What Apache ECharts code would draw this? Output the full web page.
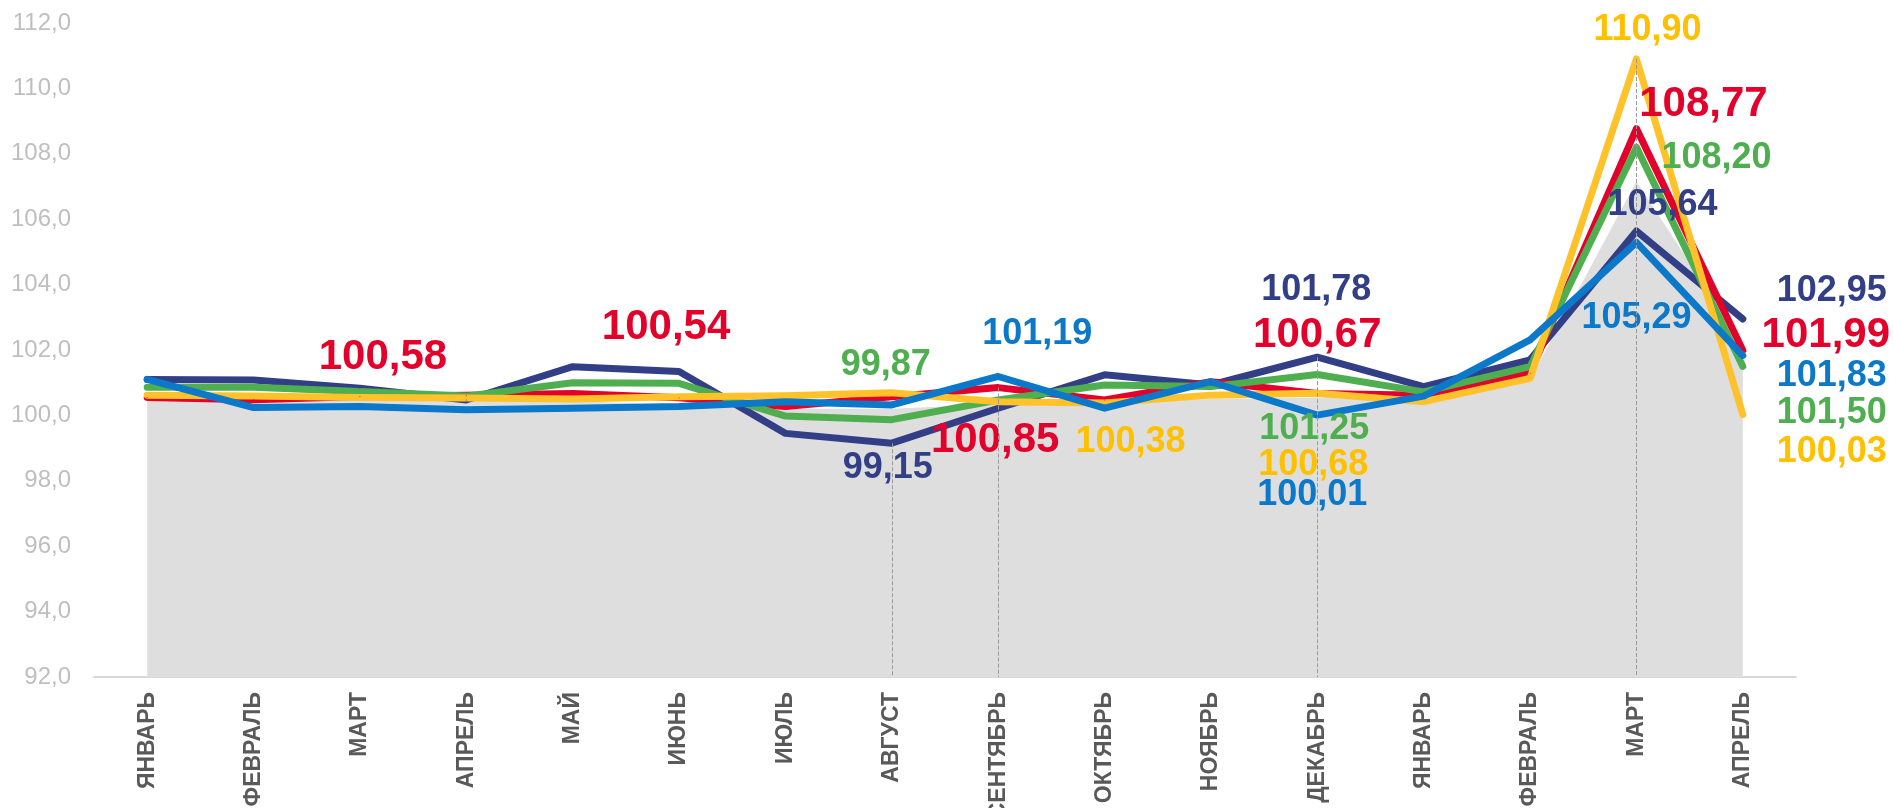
<!DOCTYPE html>
<html>
	<head>
		<meta charset="UTF-8">
		<title></title>
		<script src="https://cdn.jsdelivr.net/npm/echarts@6/dist/echarts.min.js"></script>
		<style>
			html, body { margin: 0; padding: 0; background: #fff; }
			#main { width: 1894px; height: 808px; }
		</style>
	</head>
	<body>
		<div id="main"></div>
		<script>
			// 月份
			var months = ['ЯНВАРЬ', 'ФЕВРАЛЬ', 'МАРТ', 'АПРЕЛЬ', 'МАЙ', 'ИЮНЬ', 'ИЮЛЬ', 'АВГУСТ', 'СЕНТЯБРЬ',
				'ОКТЯБРЬ', 'НОЯБРЬ', 'ДЕКАБРЬ', 'ЯНВАРЬ', 'ФЕВРАЛЬ', 'МАРТ', 'АПРЕЛЬ'];

			// 灰色背景面积
			var areaVals = [100.45, 100.45, 100.45, 100.45, 100.45, 100.3, 100.2, 100.2, 100.35, 100.45, 100.5, 100.55, 100.45, 101.1, 107.15, 102.2];

			// 五条折线
			var navyVals = [101.10, 101.08, 100.83, 100.47, 101.49, 101.34, 99.45, 99.15, 100.22, 101.24, 100.93, 101.78, 100.88, 101.70, 105.64, 102.95];
			var redVals = [100.55, 100.48, 100.58, 100.62, 100.67, 100.54, 100.27, 100.57, 100.85, 100.47, 101.03, 100.67, 100.62, 101.29, 108.77, 101.99];
			var greenVals = [100.86, 100.86, 100.73, 100.59, 101.00, 100.98, 99.98, 99.87, 100.47, 100.93, 100.88, 101.25, 100.72, 101.49, 108.20, 101.50];
			var yellowVals = [100.62, 100.59, 100.55, 100.53, 100.50, 100.57, 100.60, 100.69, 100.42, 100.38, 100.62, 100.68, 100.42, 101.13, 110.90, 100.03];
			var blueVals = [101.10, 100.24, 100.27, 100.17, 100.22, 100.27, 100.42, 100.32, 101.19, 100.22, 101.03, 100.01, 100.59, 102.31, 105.29, 101.83];

			// y轴刻度
			var yMin = 92, yMax = 112, yStep = 2;

			// 标签位置（索引，偏移）
			var navyLabels = [[7, -4, 25], [11, -1, -67], [14, 26, -26], [15, 89, -28]];
			var redLabels = [[2, 23, -39], [5, -13, -70], [8, -3, 53], [11, 0, -58], [14, 67, -24], [15, 83, -15]];
			var greenLabels = [[7, -6, -55], [11, -3, 55], [14, 80, 11], [15, 89, 47]];
			var yellowLabels = [[9, 26, 39], [11, -4, 72], [14, 11, -29], [15, 89, 38]];
			var blueLabels = [[8, 39, -42], [11, -5, 80], [14, 0, 76], [15, 89, 21]];

			var fontName = '"Liberation Sans", Arial, sans-serif';

			function fmt(v) {
				return v.toFixed(2).replace('.', ',');
			}

			// 生成带标签的数据
			function buildData(vals, labels, color, size) {
				var data = vals.map(function(v) { return { value: v }; });
				labels.forEach(function(l) {
					data[l[0]].label = {
						show: true,
						position: 'inside',
						offset: [l[1], l[2]],
						formatter: fmt(vals[l[0]]),
						color: color,
						fontSize: size,
						fontWeight: 'bold',
						fontFamily: fontName
					};
				});
				return data;
			}

			function lineSeries(name, vals, labels, color, textColor, size) {
				return {
					name: name,
					type: 'line',
					symbol: 'circle',
					symbolSize: 1,
					itemStyle: { color: color },
					lineStyle: { color: color, width: 7, cap: 'round', join: 'round' },
					label: { show: false },
					emphasis: { disabled: true },
					data: buildData(vals, labels, textColor, size)
				};
			}

			var myChart = echarts.init(document.getElementById('main'));

			var option = {
				animation: false,
				grid: { left: 94, right: 98, top: 23, bottom: 131, outerBoundsMode: 'none', containLabel: false },
				xAxis: {
					type: 'category',
					boundaryGap: true,
					data: months,
					axisLine: { lineStyle: { color: '#d9d9d9', width: 2 } },
					axisTick: { show: false },
					axisLabel: {
						rotate: 90,
						margin: 15,
						interval: 0,
						color: '#595959',
						fontSize: 23,
						fontWeight: 'bold',
						fontFamily: fontName
					}
				},
				yAxis: {
					type: 'value',
					min: yMin,
					max: yMax,
					interval: yStep,
					axisLine: { show: false },
					axisTick: { show: false },
					splitLine: { show: false },
					axisLabel: {
						margin: 23,
						color: '#bfbfbf',
						fontSize: 24,
						fontFamily: fontName,
						formatter: function(v) { return v.toFixed(1).replace('.', ','); }
					}
				},
				series: [
					{
						name: 'area',
						type: 'line',
						symbol: 'none',
						lineStyle: { width: 0 },
						areaStyle: { color: '#dedede', opacity: 1 },
						data: areaVals,
						markLine: {
							silent: true,
							symbol: ['none', 'none'],
							label: { show: false },
							lineStyle: { color: '#9a9a9a', type: 'dashed', width: 1 },
							data: [
								[{ coord: [7, navyVals[7]] }, { coord: [7, yMin] }],
								[{ coord: [8, redVals[8]] }, { coord: [8, yMin] }],
								[{ coord: [11, navyVals[11]] }, { coord: [11, yMin] }],
								[{ coord: [14, yellowVals[14]] }, { coord: [14, yMin] }]
							]
						}
					},
					lineSeries('navy', navyVals, navyLabels, '#323f87', '#323f87', 36),
					lineSeries('red', redVals, redLabels, '#e3002b', '#e3002b', 42),
					lineSeries('green', greenVals, greenLabels, '#4fae4f', '#4fae4f', 36),
					lineSeries('yellow', yellowVals, yellowLabels, '#ffc22a', '#ffc000', 36),
					lineSeries('blue', blueVals, blueLabels, '#0b78c9', '#0b78c9', 36)
				]
			};

			myChart.setOption(option);
		</script>
	</body>
</html>
